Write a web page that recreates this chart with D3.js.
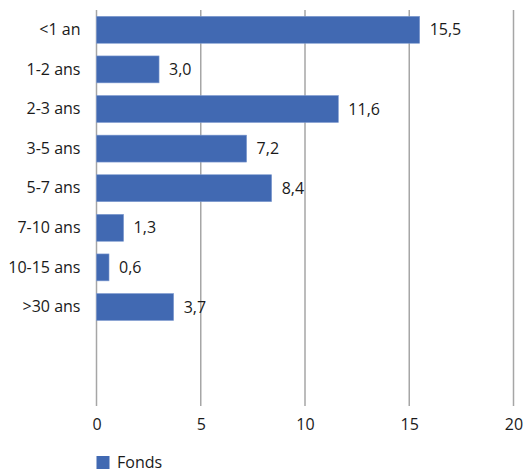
<!DOCTYPE html>
<html>
<head>
<meta charset="utf-8">
<script src="https://cdn.jsdelivr.net/npm/d3@7"></script>
<style>
  html, body { margin: 0; padding: 0; background: #fff; }
  svg { display: block; }
  text { font-family: "Open Sans", "Noto Sans", sans-serif; fill: #1a1a1a; }
</style>
</head>
<body>
<svg id="chart" width="524" height="473"></svg>
<script>
// Maturity buckets and fund share (%)
const categories = ["<1 an", "1-2 ans", "2-3 ans", "3-5 ans", "5-7 ans", "7-10 ans", "10-15 ans", ">30 ans"];
const fonds = [15.5, 3.0, 11.6, 7.2, 8.4, 1.3, 0.6, 3.7];
const xTicks = [0, 5, 10, 15, 20];
const seriesName = "Fonds";
// Two trailing empty rows keep the axis frame taller than the bars
const slotCount = 10;

const svg = d3.select("#chart");
const plot = { left: 96.5, right: 513.5, top: 10, bottom: 406 };
const fontSize = 16;

const x = d3.scaleLinear().domain([0, 20]).range([plot.left, plot.right]);
const y = d3.scaleBand().domain(d3.range(slotCount)).range([plot.top, plot.bottom]).paddingInner(0.32).paddingOuter(0.16);

const blue = "#4169b2";
const grid = "#a6a6a6";
const fmt = v => d3.format(".1f")(v).replace(".", ",");

// vertical gridlines
svg.append("g").selectAll("line").data(xTicks).join("line")
  .attr("x1", d => x(d)).attr("x2", d => x(d))
  .attr("y1", plot.top).attr("y2", plot.bottom)
  .attr("stroke", grid).attr("stroke-width", 1.5);

// bars
svg.append("g").selectAll("rect").data(fonds).join("rect")
  .attr("x", x(0))
  .attr("y", (d, i) => y(i))
  .attr("width", d => x(d) - x(0))
  .attr("height", y.bandwidth())
  .attr("fill", blue)
  .attr("stroke", "#7f9bd0").attr("stroke-width", 0.6);

// value labels
svg.append("g").selectAll("text").data(fonds).join("text")
  .attr("x", d => x(d) + 10)
  .attr("y", (d, i) => y(i) + y.bandwidth() / 2)
  .attr("dy", "0.35em")
  .attr("font-size", fontSize)
  .text(d => fmt(d));

// category axis labels
const yAxis = d3.axisLeft(y).tickSize(0).tickPadding(16)
  .tickFormat(i => categories[i] || "");
const gy = svg.append("g").attr("transform", `translate(${plot.left},0)`).call(yAxis);
gy.select(".domain").remove();
gy.selectAll("text").attr("font-size", fontSize).attr("font-family", null).attr("fill", "#1a1a1a");

// value axis labels
const xAxis = d3.axisBottom(x).tickValues(xTicks).tickSize(0).tickPadding(13);
const gx = svg.append("g").attr("transform", `translate(0,${plot.bottom})`).call(xAxis);
gx.select(".domain").remove();
gx.selectAll("text").attr("font-size", fontSize).attr("font-family", null).attr("fill", "#1a1a1a");

// legend
const lg = svg.append("g").attr("transform", `translate(${plot.left},456)`);
lg.append("rect").attr("width", 13).attr("height", 13).attr("fill", blue);
lg.append("text").attr("x", 20.5).attr("y", 6.5).attr("dy", "0.35em").attr("font-size", fontSize).text(seriesName);
</script>
</body>
</html>
